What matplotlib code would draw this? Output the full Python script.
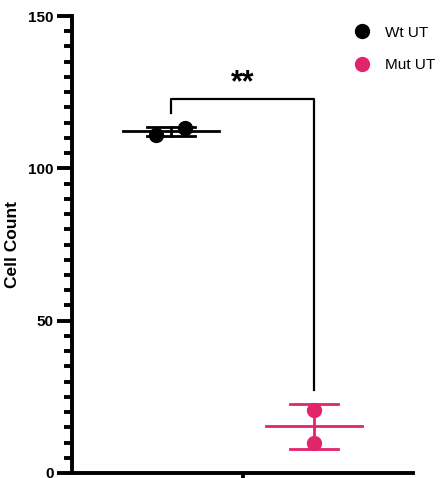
import numpy as np
import matplotlib.pyplot as plt
from matplotlib.lines import Line2D

plt.rcParams['font.family'] = ['Liberation Sans', 'DejaVu Sans']

# Data
groups = ["Wt UT", "Mut UT"]
colors = ["#000000", "#E2246A"]
wt_values = [111.0, 113.2]
mut_values = [20.6, 10.0]
sig_label = "**"
sig_heights = [118.0, 122.7, 27.2]  # left leg end, bar, right leg end
y_ticks = [0, 50, 100, 150]

# Layout
group_x = [0.29, 0.71]
jitter = [[-0.045, 0.04], [0.0, 0.0]]
mean_half = 0.14
cap_half = 0.07

fig = plt.figure(figsize=(4.42, 4.78), dpi=100)
ax = fig.add_axes([72 / 442, 5 / 478, 341 / 442, 457 / 478])

for i, vals in enumerate([wt_values, mut_values]):
    vals = np.array(vals)
    m = vals.mean()
    sd = vals.std(ddof=1)
    c = colors[i]
    xc = group_x[i]
    ax.plot([xc, xc], [m - sd, m + sd], color=c, lw=2, zorder=2)
    ax.plot([xc - cap_half, xc + cap_half], [m - sd] * 2, color=c, lw=2, zorder=2)
    ax.plot([xc - cap_half, xc + cap_half], [m + sd] * 2, color=c, lw=2, zorder=2)
    ax.plot([xc - mean_half, xc + mean_half], [m, m], color=c, lw=2, zorder=2)
    ax.plot(xc + np.array(jitter[i]), vals, 'o', color=c, ms=10, zorder=3,
            clip_on=False)

# Significance bracket
x0, x1 = group_x
ax.plot([x0, x0, x1, x1], [sig_heights[0], sig_heights[1], sig_heights[1], sig_heights[2]],
        color='black', lw=1.6, zorder=1)
ax.text(0.5, sig_heights[1] + 0.3, sig_label, ha='center', va='bottom',
        fontsize=22, fontweight='bold')

# Axes styling
ax.set_xlim(0, 1)
ax.set_ylim(0, 150)
for s in ['top', 'right']:
    ax.spines[s].set_visible(False)
for s in ['left', 'bottom']:
    ax.spines[s].set_linewidth(2.8)
    ax.spines[s].set_clip_on(False)
ax.set_yticks(y_ticks)
ax.set_yticks(np.arange(0, 151, 5), minor=True)
ax.set_yticklabels([str(t) for t in y_ticks], fontweight='bold', fontsize=11)
ax.tick_params(axis='y', which='major', length=11, width=2.8, pad=2)
ax.tick_params(axis='y', which='minor', length=6, width=2.8)
ax.set_xticks([0.5])
ax.set_xticklabels([""])
ax.tick_params(axis='x', length=10, width=2.8)
ax.set_ylabel("Cell Count", fontweight='bold', fontsize=12.5)
ax.yaxis.set_label_coords(-52 / 341, 0.5)

handles = [Line2D([], [], marker='o', ls='', color=c, ms=10) for c in colors]
fig.legend(handles, groups, loc='upper left', bbox_to_anchor=(347 / 442, 1 - 18 / 478),
           frameon=False, fontsize=11, handletextpad=1.0, labelspacing=1.2,
           handlelength=1.0, borderpad=0)

fig.savefig("out.png", dpi=100)
